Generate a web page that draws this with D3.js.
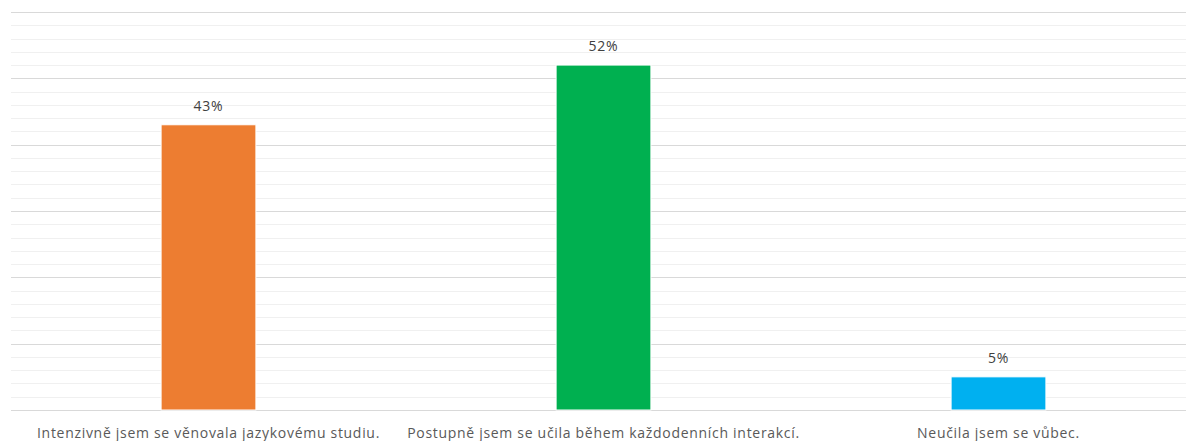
<!DOCTYPE html>
<html><head><meta charset="utf-8">
<script src="https://cdn.jsdelivr.net/npm/d3@7"></script>
<style>body{margin:0;background:#fff}svg{display:block}</style>
</head><body>
<svg id="c" width="1186" height="441"></svg>
<script>
const categories = ["Intenzivně jsem se věnovala jazykovému studiu.", "Postupně jsem se učila během každodenních interakcí.", "Neučila jsem se vůbec."];
const values = [43, 52, 5];
const colors = ["#ED7D31", "#00B050", "#00B0F0"];
const majorTicks = [0, 10, 20, 30, 40, 50, 60];
const minorTicks = d3.range(0, 61, 2);

(function () {
const svg = d3.select("#c");
const mL = 11, mR = 1196, mT = 12, mB = 410;
const x = d3.scaleBand().domain(categories).range([mL, mR]).padding(0);
const y = d3.scaleLinear().domain([0, 60]).range([mB, mT]);

svg.append("g").selectAll("line").data(minorTicks.filter(t => t % 10 !== 0)).join("line")
  .attr("x1", mL).attr("x2", mR).attr("y1", d => Math.round(y(d)) + 0.5).attr("y2", d => Math.round(y(d)) + 0.5)
  .attr("stroke", "#f0f0f0").attr("stroke-width", 1);
svg.append("g").selectAll("line").data(majorTicks).join("line")
  .attr("x1", mL).attr("x2", mR).attr("y1", d => Math.round(y(d)) + 0.5).attr("y2", d => Math.round(y(d)) + 0.5)
  .attr("stroke", "#d9d9d9").attr("stroke-width", 1);

const bw = x.bandwidth() * 0.24;
svg.append("g").selectAll("rect").data(categories).join("rect")
  .attr("x", d => x(d) + x.bandwidth() / 2 - bw / 2)
  .attr("width", bw)
  .attr("y", (d, i) => y(values[i]))
  .attr("height", (d, i) => y(0) - y(values[i]))
  .attr("fill", (d, i) => colors[i])
  .attr("stroke", "#fff").attr("stroke-width", 1);

svg.append("g").selectAll("text").data(categories).join("text")
  .attr("x", d => x(d) + x.bandwidth() / 2)
  .attr("y", (d, i) => y(values[i]) - 14)
  .attr("text-anchor", "middle")
  .attr("font-family", "Open Sans, sans-serif").attr("font-size", 14)
  .attr("letter-spacing", 0.8)
  .attr("fill", "#404040")
  .text((d, i) => values[i] + "%");

const xAxis = svg.append("g").attr("transform", `translate(0,${mB})`)
  .call(d3.axisBottom(x).tickSize(0).tickPadding(18));
xAxis.select(".domain").remove();
xAxis.selectAll("text")
  .attr("font-family", "Open Sans, sans-serif").attr("font-size", 14)
  .attr("letter-spacing", 0.7)
  .attr("fill", "#595959");
})();
</script>
</body></html>
